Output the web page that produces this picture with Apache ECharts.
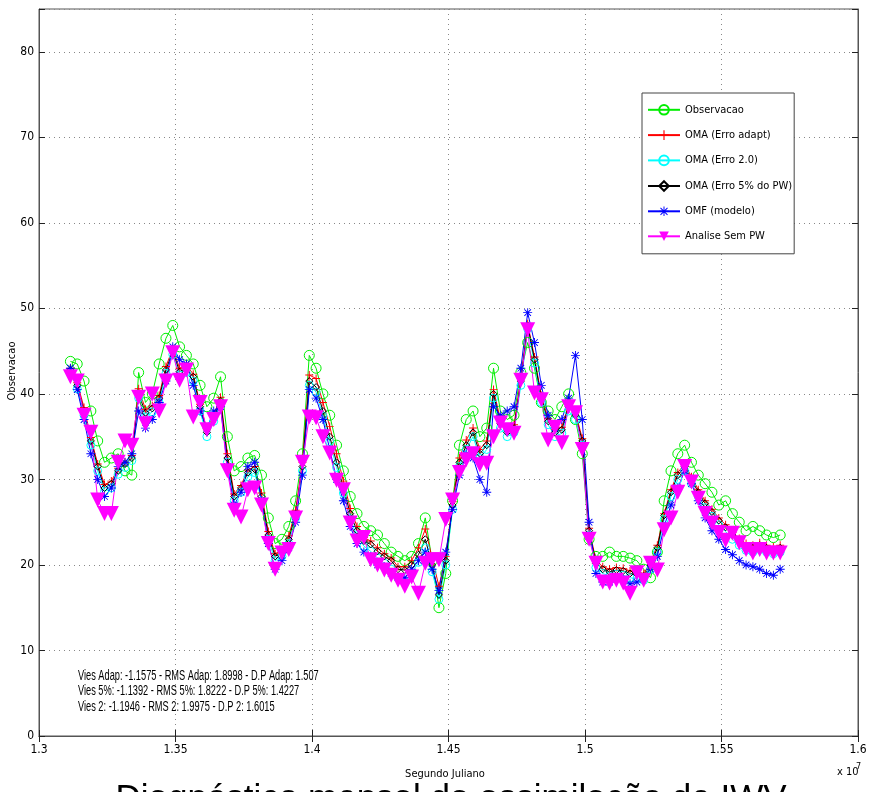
<!DOCTYPE html>
<html>
<head>
<meta charset="utf-8">
<script src="https://cdn.jsdelivr.net/npm/echarts@6/dist/echarts.min.js"></script>
<style>
  html, body { margin: 0; padding: 0; background: #fff; }
  #grafico { width: 875px; height: 792px; }
</style>
</head>
<body>
<div id="grafico"></div>
<script>
// Segundo juliano (s) de cada amostra
const tempo = [
  13115000,13140000,13165000,13190000,13215000,13240000,13265000,13290000,13315000,13340000,
  13365000,13390000,13415000,13440000,13465000,13490000,13515000,13540000,13565000,13590000,
  13615000,13640000,13665000,13690000,13715000,13740000,13765000,13790000,13815000,13840000,
  13865000,13890000,13915000,13940000,13965000,13990000,14015000,14040000,14065000,14090000,
  14115000,14140000,14165000,14190000,14215000,14240000,14265000,14290000,14315000,14340000,
  14365000,14390000,14415000,14440000,14465000,14490000,14515000,14540000,14565000,14590000,
  14615000,14640000,14665000,14690000,14715000,14740000,14765000,14790000,14815000,14840000,
  14865000,14890000,14915000,14940000,14965000,14990000,15015000,15040000,15065000,15090000,
  15115000,15140000,15165000,15190000,15215000,15240000,15265000,15290000,15315000,15340000,
  15365000,15390000,15415000,15440000,15465000,15490000,15515000,15540000,15565000,15590000,
  15615000,15640000,15665000,15690000,15715000
];

const observacao = [
  43.8,43.5,41.5,38.0,34.5,32.0,32.5,33.0,31.0,30.5,
  42.5,39.0,40.0,43.5,46.5,48.0,45.5,44.5,43.5,41.0,
  38.5,39.5,42.0,35.0,31.0,31.5,32.5,32.8,30.5,25.5,
  22.5,23.0,24.5,27.5,33.0,44.5,43.0,40.0,37.5,34.0,
  31.0,28.0,26.0,24.5,24.0,23.5,22.5,21.5,21.0,20.5,
  21.0,22.5,25.5,20.5,15.0,19.0,27.5,34.0,37.0,38.0,
  35.0,36.0,43.0,38.0,37.0,37.5,42.5,46.0,43.0,39.0,
  38.0,37.0,38.5,40.0,37.0,33.0,23.0,21.0,21.0,21.5,
  21.0,21.0,20.8,20.5,19.5,18.5,21.5,27.5,31.0,33.0,
  34.0,32.0,30.5,29.5,28.5,27.0,27.5,26.0,25.0,24.0,
  24.5,24.0,23.5,23.2,23.5
];

const omaAdapt = [
  43.0,41.3,38.4,34.9,31.8,29.4,29.8,31.3,32.0,32.8,
  40.6,38.2,38.6,39.8,43.2,45.3,43.0,43.4,42.3,38.8,
  35.8,37.5,39.6,33.0,28.3,29.3,31.1,31.5,28.4,23.9,
  21.3,21.8,23.4,26.4,32.0,42.2,41.8,39.0,36.2,33.0,
  29.8,26.6,24.5,23.2,22.8,22.0,21.3,20.8,19.8,19.8,
  20.5,22.0,24.2,20.8,17.5,21.0,27.4,32.5,34.6,36.0,
  33.5,34.5,40.5,37.0,35.8,36.4,41.8,48.2,44.3,39.8,
  37.1,35.8,36.1,38.8,37.8,34.8,24.3,20.5,19.8,19.5,
  19.7,19.6,19.3,19.2,19.0,20.3,22.3,26.0,28.8,30.8,
  31.8,30.3,28.8,27.5,26.5,25.5,24.7,23.8,23.1,22.5,
  22.3,22.6,22.3,22.1,22.3
];

const oma20 = [
  42.5,40.6,37.5,34.0,31.0,28.6,29.0,30.6,31.4,32.2,
  39.5,37.3,37.9,39.0,42.4,44.6,42.2,42.5,41.5,38.0,
  35.0,36.8,38.8,32.0,27.5,28.5,30.3,30.8,27.5,23.0,
  20.5,21.0,22.5,25.5,31.0,41.0,40.2,37.4,34.4,31.4,
  28.4,25.4,23.4,22.2,21.6,20.8,20.2,19.5,18.5,18.0,
  19.0,20.3,22.0,19.2,16.0,20.0,26.5,31.5,33.5,35.0,
  32.5,33.5,39.5,36.0,35.0,35.5,41.0,47.6,43.6,39.0,
  36.4,35.0,35.4,38.0,37.0,34.0,23.5,19.7,19.0,18.7,
  18.9,18.8,18.5,18.4,18.2,19.5,21.5,25.3,28.0,30.0,
  31.0,29.5,28.0,26.7,25.7,24.7,23.9,23.0,22.3,21.7,
  21.5,21.8,21.5,21.3,21.5
];

const oma5 = [
  42.8,41.0,38.0,34.5,31.5,29.0,29.5,31.0,31.8,32.5,
  40.0,37.8,38.3,39.5,42.8,45.0,42.6,43.0,42.0,38.5,
  35.5,37.2,39.2,32.5,28.0,29.0,30.8,31.2,28.0,23.5,
  21.0,21.5,23.0,26.0,31.5,41.5,40.8,38.0,35.0,32.0,
  29.0,26.0,24.0,22.8,22.4,21.6,21.0,20.5,19.5,19.4,
  20.0,21.2,23.0,20.0,16.5,20.5,27.0,32.0,34.0,35.5,
  33.0,34.0,40.0,36.5,35.5,36.0,41.5,48.0,44.0,39.5,
  36.8,35.5,35.8,38.5,37.5,34.5,24.0,20.2,19.5,19.2,
  19.4,19.3,19.0,18.9,18.7,20.0,22.0,25.8,28.5,30.5,
  31.5,30.0,28.5,27.2,26.2,25.2,24.4,23.5,22.8,22.2,
  22.0,22.3,22.0,21.8,22.0
];

const omfModelo = [
  43.0,40.5,37.0,33.0,30.0,28.0,29.0,31.5,32.0,33.0,
  38.0,36.0,37.0,39.0,41.5,45.5,44.0,43.5,41.0,38.0,
  36.0,38.0,38.5,31.5,27.0,28.5,31.5,32.0,27.5,22.5,
  19.5,20.5,22.0,25.0,30.5,40.5,39.5,37.0,33.5,30.0,
  27.5,24.5,22.5,21.5,21.0,20.0,19.8,19.0,18.5,18.5,
  19.5,20.5,21.5,19.5,17.0,21.5,26.5,30.5,33.0,32.5,
  30.0,28.5,38.5,37.5,38.0,38.5,43.0,49.5,46.0,41.0,
  37.5,36.0,37.0,39.5,44.5,37.0,25.0,19.0,18.0,18.0,
  18.5,18.3,17.8,18.0,18.5,19.5,21.0,24.5,27.0,29.0,
  31.0,29.5,27.5,25.5,24.0,23.0,21.8,21.2,20.5,20.0,
  19.8,19.5,19.0,18.8,19.5
];

const analiseSemPW = [
  42.0,41.5,37.5,35.5,27.6,26.0,26.0,32.0,34.5,34.0,
  39.6,36.5,40.0,38.0,41.5,44.8,41.6,42.8,37.3,39.0,
  35.8,37.0,38.5,31.0,26.4,25.6,28.8,29.0,27.0,22.5,
  19.5,21.4,21.8,25.5,32.0,37.3,37.2,35.0,33.1,29.9,
  28.8,24.9,22.8,23.2,20.6,20.0,19.4,18.8,18.2,17.5,
  18.6,16.7,20.2,20.6,20.6,25.3,27.6,30.8,32.3,33.0,
  31.7,31.9,35.0,36.6,35.8,35.4,41.6,47.5,40.1,39.3,
  34.6,36.1,34.3,38.5,37.8,33.5,23.0,20.2,18.0,17.9,
  18.2,17.9,16.7,19.1,18.2,20.2,19.4,24.1,25.5,28.5,
  31.5,29.7,27.8,26.0,24.9,23.8,22.9,23.7,22.6,21.8,
  21.4,21.8,21.4,21.4,21.4
];

const nomesSeries = ['Observacao', 'OMA (Erro adapt)', 'OMA (Erro 2.0)', 'OMA (Erro 5% do PW)', 'OMF (modelo)', 'Analise Sem PW'];
const ticksX = [1.3, 1.35, 1.4, 1.45, 1.5, 1.55, 1.6];
const ticksY = [0, 10, 20, 30, 40, 50, 60, 70, 80];
const estatisticas = [
  'Vies Adap: -1.1575 - RMS Adap: 1.8998 - D.P Adap: 1.507',
  'Vies 5%: -1.1392 - RMS 5%: 1.8222 - D.P 5%: 1.4227',
  'Vies 2: -1.1946 - RMS 2: 1.9975 - D.P 2: 1.6015'
];

const fonte = "'DejaVu Sans Condensed', 'Liberation Sans Narrow', 'Liberation Sans', Arial, sans-serif";

// simbolos no estilo matlab
const simboloMais = 'path://M4.4,0H5.6V4.4H10V5.6H5.6V10H4.4V5.6H0V4.4H4.4Z';
const simboloEstrela = 'path://M4.5,0H5.5V10H4.5Z M0,4.5H10V5.5H0Z M1,1.7L1.7,1L9,8.3L8.3,9Z M8.3,1L9,1.7L1.7,9L1,8.3Z';
const simboloTriangulo = 'path://M0,0L10,0L5,10Z';

const pares = (valores) => tempo.map((t, i) => [t, valores[i]]);

const serie = (nome, valores, cor, simbolo, tamanho, vazio) => ({
  name: nome,
  type: 'line',
  data: pares(valores),
  symbol: simbolo,
  symbolSize: tamanho,
  showAllSymbol: true,
  animation: false,
  lineStyle: { color: cor, width: 1 },
  itemStyle: vazio
    ? { color: 'rgba(0,0,0,0)', borderColor: cor, borderWidth: 1 }
    : { color: cor, borderColor: cor, borderWidth: 0 },
  emphasis: { disabled: true }
});

const grafico = echarts.init(document.getElementById('grafico'), null, { renderer: 'canvas' });

const eixoComum = {
  axisLine: { show: true, lineStyle: { color: '#555', width: 1 } },
  axisTick: { show: true, inside: true, length: 6, lineStyle: { color: '#222' } }
};

const option = {
  backgroundColor: '#fff',
  animation: false,
  textStyle: { fontFamily: fonte },
  grid: {
    left: 39, right: 17, top: 9, bottom: 56,
    outerBoundsMode: 'none', containLabel: false,
    show: true, borderColor: '#555', borderWidth: 1
  },
  legend: {
    data: nomesSeries,
    orient: 'vertical',
    left: 642,
    top: 93,
    itemWidth: 32,
    itemHeight: 12,
    itemGap: 14,
    padding: [11, 2, 12, 5],
    backgroundColor: '#fff',
    borderColor: '#444',
    borderWidth: 1,
    textStyle: { fontFamily: fonte, fontSize: 11, color: '#000' }
  },
  xAxis: [
    {
      type: 'value', min: 13000000, max: 16000000, interval: 500000,
      ...eixoComum,
      axisLabel: {
        color: '#000', fontSize: 12, fontFamily: fonte, margin: 8,
        formatter: (v) => {
          const r = Math.round(v / 500000);
          return ticksX[r - 26] !== undefined ? String(ticksX[r - 26]) : '';
        }
      },
      splitLine: { show: true, lineStyle: { color: '#888', type: [1, 4], width: 1 } }
    },
    {
      type: 'value', position: 'top', min: 13000000, max: 16000000, interval: 500000,
      ...eixoComum, axisLabel: { show: false }, splitLine: { show: false }
    }
  ],
  yAxis: [
    {
      type: 'value', min: 0, max: 85, interval: 10,
      ...eixoComum,
      axisLabel: {
        color: '#000', fontSize: 12, fontFamily: fonte, margin: 5,
        formatter: (v) => (ticksY.includes(v) ? String(v) : '')
      },
      splitLine: { show: true, lineStyle: { color: '#888', type: [1, 4], width: 1 } }
    },
    {
      type: 'value', position: 'right', min: 0, max: 85, interval: 10,
      ...eixoComum, axisLabel: { show: false }, splitLine: { show: false }
    }
  ],
  series: [
    serie(nomesSeries[0], observacao, '#00ee00', 'circle', 10, true),
    serie(nomesSeries[1], omaAdapt, '#ff0000', simboloMais, 8, false),
    serie(nomesSeries[2], oma20, '#00ffff', 'circle', 8, true),
    serie(nomesSeries[3], oma5, '#000000', 'diamond', 7, true),
    serie(nomesSeries[4], omfModelo, '#0000ff', simboloEstrela, 9, false),
    serie(nomesSeries[5], analiseSemPW, '#ff00ff', simboloTriangulo, 15, false)
  ],
  graphic: [
    {
      type: 'text', x: 12, y: 371, rotation: Math.PI / 2,
      style: { text: 'Observacao', fill: '#000', align: 'center', verticalAlign: 'middle', font: "11px 'DejaVu Sans Condensed', 'Liberation Sans', sans-serif" }
    },
    {
      type: 'text', x: 78, y: 668, scaleX: 0.66,
      style: {
        text: estatisticas.join('\n'), fill: '#000',
        font: "14px 'Liberation Sans', Arial, sans-serif",
        lineHeight: 15.5
      }
    },
    {
      type: 'text', x: 445, y: 769,
      style: { text: 'Segundo Juliano', fill: '#000', align: 'center', font: "11px 'DejaVu Sans Condensed', 'Liberation Sans', sans-serif" }
    },
    {
      type: 'text', x: 837, y: 767,
      style: { text: 'x 10', fill: '#000', font: "11px 'DejaVu Sans Condensed', 'Liberation Sans', sans-serif" }
    },
    {
      type: 'text', x: 856, y: 762,
      style: { text: '7', fill: '#000', font: "9px 'DejaVu Sans Condensed', 'Liberation Sans', sans-serif" }
    },
    {
      type: 'text', x: 451, y: 782,
      style: { text: 'Diagnóstico mensal da assimilação de IWV', fill: '#000', align: 'center', font: "35px 'Liberation Sans', Arial, sans-serif" }
    }
  ]
};

grafico.setOption(option);
</script>
</body>
</html>
